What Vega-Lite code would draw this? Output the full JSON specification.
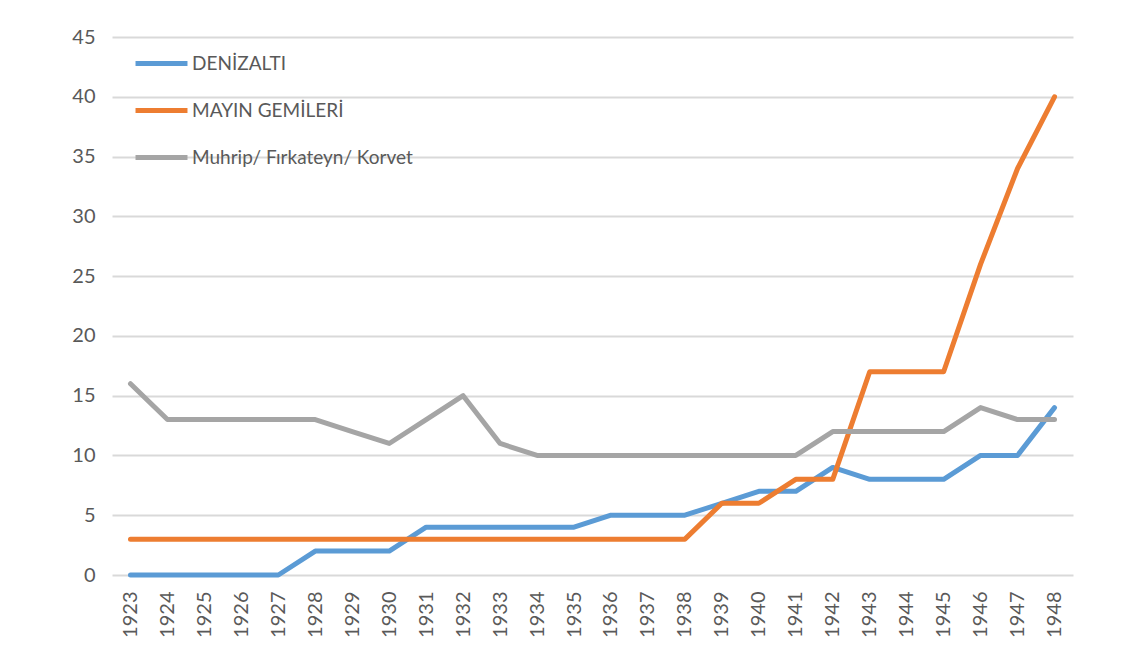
{
  "$schema": "https://vega.github.io/schema/vega-lite/v6.json",
  "autosize": "none",
  "width": 961,
  "height": 538,
  "padding": {"left": 112, "top": 37, "right": 56, "bottom": 71},
  "background": "white",
  "config": {
    "font": "Lato",
    "view": {"stroke": null}
  },
  "data": {
    "values": [
      {"year": "1923", "series": "DENİZALTI", "value": 0},
      {"year": "1924", "series": "DENİZALTI", "value": 0},
      {"year": "1925", "series": "DENİZALTI", "value": 0},
      {"year": "1926", "series": "DENİZALTI", "value": 0},
      {"year": "1927", "series": "DENİZALTI", "value": 0},
      {"year": "1928", "series": "DENİZALTI", "value": 2},
      {"year": "1929", "series": "DENİZALTI", "value": 2},
      {"year": "1930", "series": "DENİZALTI", "value": 2},
      {"year": "1931", "series": "DENİZALTI", "value": 4},
      {"year": "1932", "series": "DENİZALTI", "value": 4},
      {"year": "1933", "series": "DENİZALTI", "value": 4},
      {"year": "1934", "series": "DENİZALTI", "value": 4},
      {"year": "1935", "series": "DENİZALTI", "value": 4},
      {"year": "1936", "series": "DENİZALTI", "value": 5},
      {"year": "1937", "series": "DENİZALTI", "value": 5},
      {"year": "1938", "series": "DENİZALTI", "value": 5},
      {"year": "1939", "series": "DENİZALTI", "value": 6},
      {"year": "1940", "series": "DENİZALTI", "value": 7},
      {"year": "1941", "series": "DENİZALTI", "value": 7},
      {"year": "1942", "series": "DENİZALTI", "value": 9},
      {"year": "1943", "series": "DENİZALTI", "value": 8},
      {"year": "1944", "series": "DENİZALTI", "value": 8},
      {"year": "1945", "series": "DENİZALTI", "value": 8},
      {"year": "1946", "series": "DENİZALTI", "value": 10},
      {"year": "1947", "series": "DENİZALTI", "value": 10},
      {"year": "1948", "series": "DENİZALTI", "value": 14},
      {"year": "1923", "series": "MAYIN GEMİLERİ", "value": 3},
      {"year": "1924", "series": "MAYIN GEMİLERİ", "value": 3},
      {"year": "1925", "series": "MAYIN GEMİLERİ", "value": 3},
      {"year": "1926", "series": "MAYIN GEMİLERİ", "value": 3},
      {"year": "1927", "series": "MAYIN GEMİLERİ", "value": 3},
      {"year": "1928", "series": "MAYIN GEMİLERİ", "value": 3},
      {"year": "1929", "series": "MAYIN GEMİLERİ", "value": 3},
      {"year": "1930", "series": "MAYIN GEMİLERİ", "value": 3},
      {"year": "1931", "series": "MAYIN GEMİLERİ", "value": 3},
      {"year": "1932", "series": "MAYIN GEMİLERİ", "value": 3},
      {"year": "1933", "series": "MAYIN GEMİLERİ", "value": 3},
      {"year": "1934", "series": "MAYIN GEMİLERİ", "value": 3},
      {"year": "1935", "series": "MAYIN GEMİLERİ", "value": 3},
      {"year": "1936", "series": "MAYIN GEMİLERİ", "value": 3},
      {"year": "1937", "series": "MAYIN GEMİLERİ", "value": 3},
      {"year": "1938", "series": "MAYIN GEMİLERİ", "value": 3},
      {"year": "1939", "series": "MAYIN GEMİLERİ", "value": 6},
      {"year": "1940", "series": "MAYIN GEMİLERİ", "value": 6},
      {"year": "1941", "series": "MAYIN GEMİLERİ", "value": 8},
      {"year": "1942", "series": "MAYIN GEMİLERİ", "value": 8},
      {"year": "1943", "series": "MAYIN GEMİLERİ", "value": 17},
      {"year": "1944", "series": "MAYIN GEMİLERİ", "value": 17},
      {"year": "1945", "series": "MAYIN GEMİLERİ", "value": 17},
      {"year": "1946", "series": "MAYIN GEMİLERİ", "value": 26},
      {"year": "1947", "series": "MAYIN GEMİLERİ", "value": 34},
      {"year": "1948", "series": "MAYIN GEMİLERİ", "value": 40},
      {"year": "1923", "series": "Muhrip/ Fırkateyn/ Korvet", "value": 16},
      {"year": "1924", "series": "Muhrip/ Fırkateyn/ Korvet", "value": 13},
      {"year": "1925", "series": "Muhrip/ Fırkateyn/ Korvet", "value": 13},
      {"year": "1926", "series": "Muhrip/ Fırkateyn/ Korvet", "value": 13},
      {"year": "1927", "series": "Muhrip/ Fırkateyn/ Korvet", "value": 13},
      {"year": "1928", "series": "Muhrip/ Fırkateyn/ Korvet", "value": 13},
      {"year": "1929", "series": "Muhrip/ Fırkateyn/ Korvet", "value": 12},
      {"year": "1930", "series": "Muhrip/ Fırkateyn/ Korvet", "value": 11},
      {"year": "1931", "series": "Muhrip/ Fırkateyn/ Korvet", "value": 13},
      {"year": "1932", "series": "Muhrip/ Fırkateyn/ Korvet", "value": 15},
      {"year": "1933", "series": "Muhrip/ Fırkateyn/ Korvet", "value": 11},
      {"year": "1934", "series": "Muhrip/ Fırkateyn/ Korvet", "value": 10},
      {"year": "1935", "series": "Muhrip/ Fırkateyn/ Korvet", "value": 10},
      {"year": "1936", "series": "Muhrip/ Fırkateyn/ Korvet", "value": 10},
      {"year": "1937", "series": "Muhrip/ Fırkateyn/ Korvet", "value": 10},
      {"year": "1938", "series": "Muhrip/ Fırkateyn/ Korvet", "value": 10},
      {"year": "1939", "series": "Muhrip/ Fırkateyn/ Korvet", "value": 10},
      {"year": "1940", "series": "Muhrip/ Fırkateyn/ Korvet", "value": 10},
      {"year": "1941", "series": "Muhrip/ Fırkateyn/ Korvet", "value": 10},
      {"year": "1942", "series": "Muhrip/ Fırkateyn/ Korvet", "value": 12},
      {"year": "1943", "series": "Muhrip/ Fırkateyn/ Korvet", "value": 12},
      {"year": "1944", "series": "Muhrip/ Fırkateyn/ Korvet", "value": 12},
      {"year": "1945", "series": "Muhrip/ Fırkateyn/ Korvet", "value": 12},
      {"year": "1946", "series": "Muhrip/ Fırkateyn/ Korvet", "value": 14},
      {"year": "1947", "series": "Muhrip/ Fırkateyn/ Korvet", "value": 13},
      {"year": "1948", "series": "Muhrip/ Fırkateyn/ Korvet", "value": 13}
    ]
  },
  "mark": {"type": "line", "strokeWidth": 5, "strokeCap": "round", "strokeJoin": "round"},
  "encoding": {
    "x": {
      "field": "year",
      "type": "ordinal",
      "scale": {"type": "point", "padding": 0.5},
      "axis": {
        "title": null,
        "labelAngle": 270,
        "labelFontSize": 20,
        "labelColor": "#595959",
        "labelPadding": 16,
        "domain": false,
        "ticks": false,
        "grid": false
      }
    },
    "y": {
      "field": "value",
      "type": "quantitative",
      "scale": {"domain": [0, 45], "nice": false},
      "axis": {
        "title": null,
        "values": [0, 5, 10, 15, 20, 25, 30, 35, 40, 45],
        "labelFontSize": 20,
        "labelColor": "#595959",
        "labelPadding": 17,
        "domain": false,
        "ticks": false,
        "grid": true,
        "gridColor": "#d9d9d9",
        "gridWidth": 2
      }
    },
    "color": {
      "field": "series",
      "type": "nominal",
      "scale": {
        "domain": ["DENİZALTI", "MAYIN GEMİLERİ", "Muhrip/ Fırkateyn/ Korvet"],
        "range": ["#5B9BD5", "#ED7D31", "#A5A5A5"]
      },
      "legend": {
        "title": null,
        "orient": "none",
        "legendX": 21,
        "legendY": -2,
        "symbolType": "stroke",
        "symbolSize": 2700,
        "symbolStrokeWidth": 5,
        "labelFontSize": 19,
        "labelColor": "#595959",
        "labelOffset": 2,
        "rowPadding": 8,
        "labelLimit": 400
      }
    }
  }
}
